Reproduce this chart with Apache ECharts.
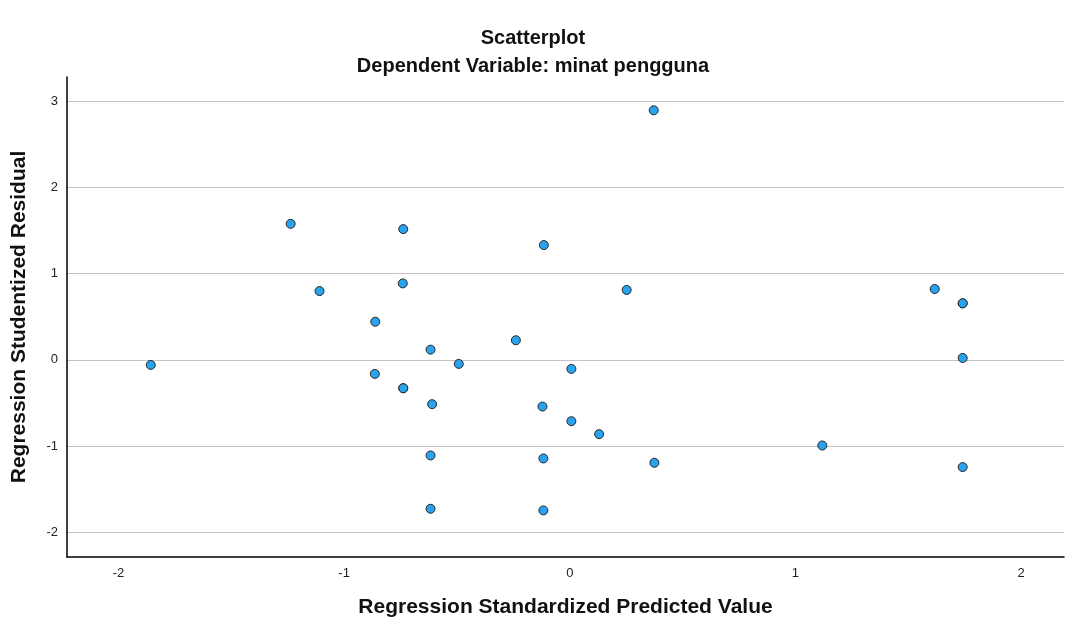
<!DOCTYPE html>
<html>
<head>
<meta charset="utf-8">
<script src="https://cdn.jsdelivr.net/npm/echarts@6/dist/echarts.min.js"></script>
<style>html,body{margin:0;padding:0;background:#fff}#c{width:1066px;height:624px}</style>
</head>
<body>
<div id="c"></div>
<script>
var titleText = 'Scatterplot';
var subtitleText = 'Dependent Variable: minat pengguna';
var xName = 'Regression Standardized Predicted Value';
var yName = 'Regression Studentized Residual';
var xTicks = [-2, -1, 0, 1, 2];
var yTicks = [-2, -1, 0, 1, 2, 3];
var predicted = [-1.857, -1.237, -1.109, -0.738, -0.740, -0.862, -0.617, -0.864, -0.738, -0.738,
  -0.610, -0.492, -0.239, -0.115, 0.007, -0.121, 0.007, 0.130, -0.617, -0.117,
  0.375, -0.617, -0.117, 0.372, 0.252, 1.617, 1.741, 1.741, 1.741, 1.119, 1.741];
var residual = [-0.059, 1.576, 0.797, 1.515, 0.886, 0.442, 0.118, -0.163, -0.329, -0.329,
  -0.514, -0.047, 0.227, 1.330, -0.105, -0.541, -0.711, -0.861, -1.108, -1.143,
  -1.193, -1.726, -1.745, 2.892, 0.810, 0.821, 0.655, 0.655, 0.022, -0.993, -1.243];

var pts = predicted.map(function (x, i) { return [x, residual[i]]; });
var font = '"Liberation Sans", Arial, sans-serif';
var chart = echarts.init(document.getElementById('c'));
chart.setOption({
  animation: false,
  textStyle: { fontFamily: font },
  title: [
    { text: titleText, left: 'center', top: 23, textStyle: { fontFamily: font, fontSize: 20, fontWeight: 'bold', color: '#111' } },
    { text: subtitleText, left: 'center', top: 51, textStyle: { fontFamily: font, fontSize: 20, fontWeight: 'bold', color: '#111' } }
  ],
  grid: { left: 67, right: 2, top: 77, bottom: 67, containLabel: false },
  xAxis: {
    type: 'value', min: -2.228, max: 2.19,
    name: xName, nameLocation: 'middle', nameGap: 40,
    nameTextStyle: { fontFamily: font, fontSize: 21, fontWeight: 'bold', color: '#111' },
    axisLine: { show: true, onZero: false, lineStyle: { color: '#000', width: 1.5 } },
    axisTick: { show: false, customValues: xTicks },
    axisLabel: { customValues: xTicks, margin: 10, fontSize: 13, color: '#222', fontFamily: font },
    splitLine: { show: false }
  },
  yAxis: {
    type: 'value', min: -2.285, max: 3.278,
    name: yName, nameLocation: 'middle', nameGap: 37, nameRotate: 90,
    nameTextStyle: { fontFamily: font, fontSize: 21, fontWeight: 'bold', color: '#111' },
    axisLine: { show: true, onZero: false, lineStyle: { color: '#000', width: 1.5 } },
    axisTick: { show: false, customValues: yTicks },
    axisLabel: { customValues: yTicks, margin: 9, fontSize: 13, color: '#222', fontFamily: font },
    splitLine: { show: true, customValues: yTicks, lineStyle: { color: '#c4c4c4', width: 1.2 } }
  },
  series: [{
    type: 'scatter',
    data: pts,
    symbol: 'circle',
    symbolSize: 9,
    itemStyle: { color: '#2aa3ef', borderColor: '#262626', borderWidth: 1, opacity: 1 }
  }]
});
</script>
</body>
</html>
